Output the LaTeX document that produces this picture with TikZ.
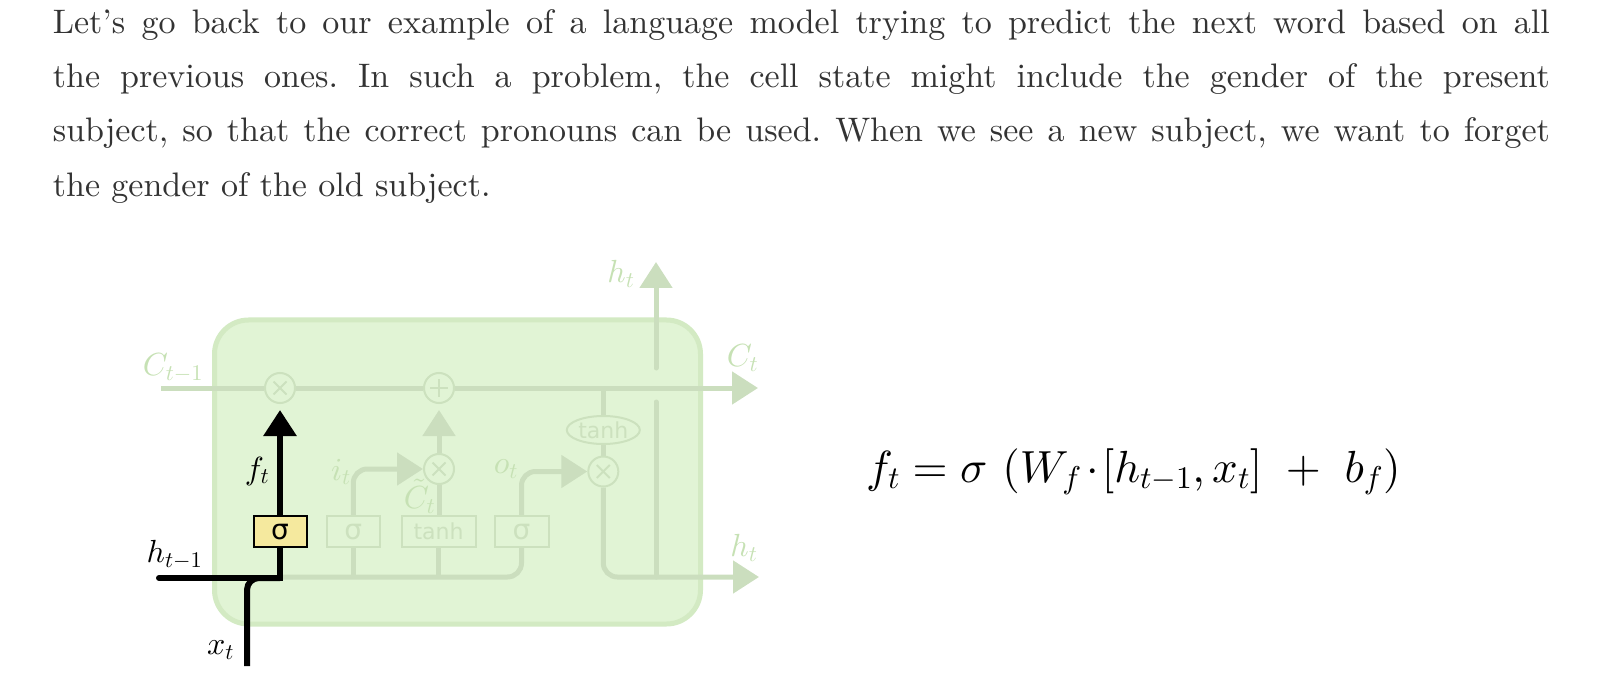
\documentclass[tikz,border=0pt]{standalone}
\usepackage{fontspec}
\newfontfamily\dejavu{DejaVu Sans}
\font\paraf="[lmroman10-regular.otf]:mapping=tex-text" at 34pt
\DeclareFontShape{OML}{cmm}{m}{it}{<->cmmi10}{}
\DeclareFontShape{OMS}{cmsy}{m}{n}{<->cmsy10}{}
\DeclareFontShape{OMX}{cmex}{m}{n}{<->cmex10}{}
\DeclareFontShape{OT1}{cmr}{m}{n}{<->cmr10}{}
\usetikzlibrary{arrows.meta,shapes.geometric}
\definecolor{cellfill}{RGB}{225,244,213}
\definecolor{cellborder}{RGB}{211,234,195}
\definecolor{flow}{RGB}{203,222,190}
\definecolor{faint}{RGB}{204,225,190}
\definecolor{lbl}{RGB}{198,225,180}
\definecolor{gatefill}{RGB}{245,233,158}
\definecolor{paratext}{RGB}{51,51,51}
\pgfdeclarelayer{bg}
\pgfdeclarelayer{lines}
\pgfdeclarelayer{blk}
\pgfsetlayers{bg,lines,blk,main}
\tikzset{
  cellbox/.style={rectangle, draw=cellborder, line width=5pt, fill=cellfill, rounded corners=34pt, minimum width=486pt, minimum height=304pt, inner sep=0},
  flowline/.style={draw=flow, line width=5pt},
  blackline/.style={draw=black, line width=6pt},
  tip/.style={-{Triangle[length=26pt,width=32pt]}},
  pointop/.style={circle, draw=faint, line width=2pt, fill=cellfill, minimum size=30pt, inner sep=0},
  opmark/.style={draw=faint, line width=2pt},
  gatebox/.style={rectangle, draw=faint, line width=2pt, fill=cellfill, minimum height=31pt, inner sep=0, text=faint, font=\dejavu\fontsize{22}{22}\selectfont},
  siggate/.style={gatebox, font=\dejavu\fontsize{28}{28}\selectfont},
  actgate/.style={siggate, draw=black, fill=gatefill, text=black},
  tanhell/.style={ellipse, draw=faint, line width=2pt, fill=cellfill, minimum width=73pt, minimum height=28pt, inner sep=0, text=faint, font=\dejavu\fontsize{22}{22}\selectfont},
  lab/.style={text=lbl, inner sep=0, font=\fontsize{32}{32}\selectfont},
  blab/.style={lab, text=black}
}
\begin{document}
\begin{tikzpicture}[x=1pt,y=-1pt]
\useasboundingbox (0,0) rectangle (1616,684);

% paragraph
\node[anchor=base west, inner sep=0, text=paratext] (para) at (52.7,33.3) {\begin{minipage}[t]{1497pt}\paraf\frenchspacing\baselineskip=54.3pt
\hbox to \linewidth{Let’s go back to our example of a language model trying to predict the next word based on all}
\hbox to \linewidth{the previous ones. In such a problem, the cell state might include the gender of the present}
\hbox to \linewidth{subject, so that the correct pronouns can be used. When we see a new subject, we want to forget}
\hbox{the gender of the old subject.}
\end{minipage}};

% cell
\begin{pgfonlayer}{bg}
\node[cellbox] (cell) at (457.5,472) {};
\end{pgfonlayer}

% coordinates
\coordinate (cin) at (161,388);
\coordinate (cout) at (758,388);
\coordinate (hbot) at (280,577);
\coordinate (hjoin) at (656,577);
\coordinate (hgapB) at (656,402);
\coordinate (hgapT) at (656,368);
\coordinate (htop) at (656,262);
\coordinate (hout) at (759,577);
\coordinate (hin) at (159,578);
\coordinate (xin) at (247,666);

% operators and gates
\node[pointop] (mulF) at (280,388) {};
\node[pointop] (add) at (439,388) {};
\node[pointop] (mulI) at (439,469) {};
\node[pointop] (mulO) at (603.3,471.5) {};
\node[tanhell] (tanhO) at (603.3,430) {tanh};
\node[actgate, minimum width=53pt] (sigF) at (280,531.7) {σ};
\node[siggate, minimum width=53pt] (sigI) at (353.3,531.7) {σ};
\node[gatebox, minimum width=74pt] (tanhC) at (438.5,531.7) {tanh};
\node[siggate, minimum width=54pt] (sigO) at (521.5,531.7) {σ};

% operator marks
\draw[opmark] (mulF.center) ++(-6.5,-6.5) -- ++(13,13) ++(0,-13) -- ++(-13,13);
\draw[opmark] (mulI.center) ++(-6.5,-6.5) -- ++(13,13) ++(0,-13) -- ++(-13,13);
\draw[opmark] (mulO.center) ++(-6.5,-6.5) -- ++(13,13) ++(0,-13) -- ++(-13,13);
\draw[opmark] (add.center) ++(-9,0) -- ++(18,0) ++(-9,-9) -- ++(0,18);

% grey flows
\begin{pgfonlayer}{lines}
\draw[flowline] (cin) -- (mulF);
\draw[flowline] (mulF) -- (add);
\draw[flowline, tip] (add) -- (cout);
\draw[flowline] (tanhO) -- (tanhO |- cin);
\draw[flowline] (tanhO) -- (mulO);
\draw[flowline, tip, rounded corners=14pt] (mulO) -- (mulO |- hout) -- (hout);
\draw[flowline, line cap=round] (hjoin) -- (hgapB);
\draw[flowline, line cap=round, tip] (hgapT) -- (htop);
\draw[flowline, rounded corners=14pt] (hbot) -- (sigO.south |- hbot) -- (sigO.south);
\draw[flowline] (sigI.south) -- (sigI.south |- hbot);
\draw[flowline] (tanhC.south) -- (tanhC.south |- hbot);
\draw[flowline, tip, rounded corners=14pt] (sigI.north) -- (sigI.north |- mulI) -- (mulI);
\draw[flowline] (tanhC.north -| mulI) -- (mulI);
\draw[flowline, tip, shorten >=6pt] (mulI) -- (add);
\draw[flowline, tip, rounded corners=14pt] (sigO.north) -- (sigO.north |- mulO) -- (mulO);
\end{pgfonlayer}

% black (active) flows
\begin{pgfonlayer}{blk}
\draw[blackline, line cap=round] (hin) -- (sigF.south |- hin) -- (sigF.south);
\draw[blackline, rounded corners=12pt] (xin) -- (xin |- hin) -- (sigF.south |- hin);
\draw[blackline, tip, shorten >=6pt] (sigF) -- (mulF);
\end{pgfonlayer}

% labels
\node[lab] (lCin) at (173,368) {$C_{t-1}$};
\node[lab] (lCout) at (742.5,358) {$C_t$};
\node[lab] (lhtop) at (621,274) {$h_t$};
\node[lab] (lhout) at (744,548) {$h_t$};
\node[lab] (lit) at (341,472) {$i_t$};
\node[lab] (lCt) at (419.5,496) {$\tilde{C}_t$};
\node[lab] (lot) at (506,469) {$o_t$};
\node[blab] (lft) at (257,471) {$f_t$};
\node[blab] (lhin) at (174.5,555) {$h_{t-1}$};
\node[blab] (lxt) at (220.5,650) {$x_t$};

% equation
\node[anchor=base west, inner sep=0] (eq) at (866,482) {\fontsize{45}{52}\selectfont $f_t = \sigma\,\left(W_f\mkern2mu{\cdot}\mkern1mu[h_{t-1},x_t]\ +\ b_f\right)$};
\end{tikzpicture}
\end{document}
